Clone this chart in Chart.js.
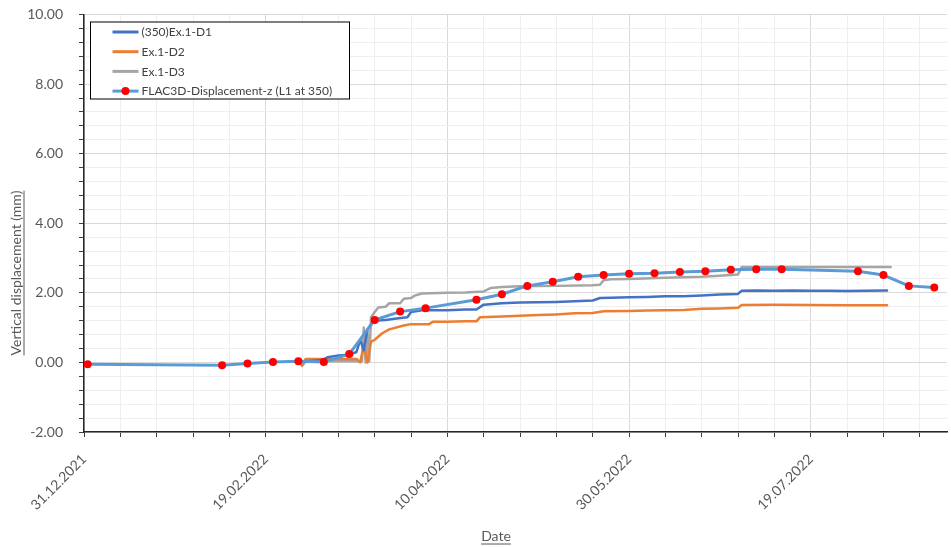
<!DOCTYPE html>
<html>
<head>
<meta charset="utf-8">
<script src="https://cdn.jsdelivr.net/npm/chart.js@4/dist/chart.umd.min.js"></script>
<style>
  html, body { margin: 0; padding: 0; background: #ffffff; }
  #wrap { width: 951px; height: 547px; }
</style>
</head>
<body>
<div id="wrap"><canvas id="chart" width="951" height="547"></canvas></div>
<script>
// Day offsets are counted from 31.12.2021.
const startDate = Date.UTC(2021, 11, 31);

// (350)Ex.1-D1 measured settlement
const d1Days   = [60, 63, 66, 67, 70, 73, 75, 76, 77, 78, 79, 80, 83, 86, 89, 90, 93, 100, 105, 108, 110, 115, 120, 125, 130, 135, 140, 142, 145, 150, 155, 160, 165, 170, 175, 180, 181, 185, 190, 195, 200, 205, 210, 215, 221];
const d1Values = [0.03, 0.05, 0.08, 0.15, 0.2, 0.22, 0.3, 0.65, 0.35, 0.95, 1.1, 1.2, 1.22, 1.26, 1.3, 1.45, 1.5, 1.5, 1.52, 1.52, 1.66, 1.7, 1.72, 1.73, 1.74, 1.76, 1.78, 1.85, 1.86, 1.87, 1.88, 1.9, 1.9, 1.92, 1.95, 1.97, 2.06, 2.07, 2.06, 2.07, 2.06, 2.06, 2.05, 2.06, 2.07];

// Ex.1-D2 measured settlement
const d2Days   = [60, 61, 65, 70, 75, 76, 77, 78, 79, 80, 82, 84, 88, 90, 95, 96, 100, 105, 108, 109, 115, 120, 125, 130, 135, 140, 143, 150, 155, 160, 165, 170, 175, 180, 181, 190, 200, 210, 221];
const d2Values = [-0.08, 0.1, 0.1, 0.1, 0.1, 0.0, 0.5, 0.0, 0.6, 0.65, 0.83, 0.95, 1.06, 1.1, 1.1, 1.17, 1.17, 1.18, 1.18, 1.3, 1.32, 1.34, 1.36, 1.38, 1.41, 1.42, 1.47, 1.48, 1.49, 1.5, 1.51, 1.54, 1.55, 1.57, 1.65, 1.66, 1.65, 1.64, 1.64];

// Ex.1-D3 measured settlement
const d3Days   = [59.5, 60, 61, 65, 70, 75, 76.5, 77, 77.5, 78, 78.5, 79, 80, 81, 83, 84, 87, 88, 90, 91, 93, 100, 105, 110, 112, 115, 120, 130, 140, 142, 143, 145, 150, 160, 170, 175, 180, 181, 190, 200, 210, 222];
const d3Values = [0.0, -0.1, 0.03, 0.03, 0.03, 0.03, 0.03, 1.0, 0.0, 0.9, 0.03, 1.3, 1.45, 1.58, 1.6, 1.7, 1.7, 1.83, 1.85, 1.92, 1.98, 2.0, 2.01, 2.04, 2.14, 2.17, 2.19, 2.2, 2.22, 2.23, 2.36, 2.39, 2.4, 2.43, 2.46, 2.49, 2.53, 2.74, 2.74, 2.74, 2.74, 2.74];

// FLAC3D vertical displacement at L1 (weekly output)
const flacDays   = [1, 38, 45, 52, 59, 66, 73, 80, 87, 94, 108, 115, 122, 129, 136, 143, 150, 157, 164, 171, 178, 185, 192, 213, 220, 227, 234];
const flacValues = [-0.05, -0.08, -0.03, 0.01, 0.03, 0.01, 0.24, 1.22, 1.46, 1.56, 1.8, 1.96, 2.2, 2.32, 2.46, 2.51, 2.55, 2.56, 2.6, 2.62, 2.66, 2.68, 2.68, 2.62, 2.51, 2.2, 2.15];

const seriesNames = ['(350)Ex.1-D1', 'Ex.1-D2', 'Ex.1-D3', 'FLAC3D-Displacement-z (L1 at 350)'];

// Axis ranges and tick spacing
const xMin = 0, xMax = 237.5, xMinorStep = 10, xMajorStep = 50;
const yMin = -2, yMax = 10, yMinorStep = 0.4, yMajorStep = 2;

const FONT = 'Lato, "Liberation Sans", sans-serif';
const TEXT = '#595959';

function pairs(xs, ys) { return xs.map((x, i) => ({ x: x, y: ys[i] })); }

function formatDate(dayOffset) {
  const d = new Date(startDate + dayOffset * 86400000);
  const dd = String(d.getUTCDate()).padStart(2, '0');
  const mm = String(d.getUTCMonth() + 1).padStart(2, '0');
  return dd + '.' + mm + '.' + d.getUTCFullYear();
}

function isMultiple(v, step) {
  return Math.abs(v / step - Math.round(v / step)) < 1e-6;
}

// Legend box drawn inside the plot, plus underlined axis titles
const overlay = {
  id: 'overlay',
  afterDraw(chart) {
    const ctx = chart.ctx;
    const area = chart.chartArea;
    ctx.save();

    // legend
    const bx = area.left + 6.5, by = area.top + 7.5, bw = 259, bh = 77;
    ctx.fillStyle = '#ffffff';
    ctx.fillRect(bx, by, bw, bh);
    ctx.strokeStyle = '#000000';
    ctx.lineWidth = 1;
    ctx.strokeRect(bx, by, bw, bh);
    ctx.font = '12px ' + FONT;
    ctx.textBaseline = 'middle';
    ctx.textAlign = 'left';
    chart.data.datasets.forEach((ds, i) => {
      const y = by + 10 + i * 19.7;
      const x0 = bx + 22, x1 = bx + 48;
      ctx.strokeStyle = ds.borderColor;
      ctx.lineWidth = 3;
      ctx.beginPath();
      ctx.moveTo(x0, y);
      ctx.lineTo(x1, y);
      ctx.stroke();
      if (ds.pointRadius > 0) {
        ctx.fillStyle = ds.pointBackgroundColor;
        ctx.beginPath();
        ctx.arc((x0 + x1) / 2, y, ds.pointRadius, 0, Math.PI * 2);
        ctx.fill();
      }
      ctx.fillStyle = '#404040';
      ctx.fillText(ds.label, x1 + 3, y + 0.5);
    });

    // axis titles
    ctx.fillStyle = TEXT;
    ctx.strokeStyle = TEXT;
    ctx.font = '14px ' + FONT;
    ctx.lineWidth = 1;

    const xt = 'Date';
    const xw = ctx.measureText(xt).width;
    const xcx = 496;
    const xcy = 536;
    ctx.textAlign = 'center';
    ctx.textBaseline = 'middle';
    ctx.fillText(xt, xcx, xcy);
    ctx.beginPath();
    ctx.moveTo(xcx - xw / 2, xcy + 8);
    ctx.lineTo(xcx + xw / 2, xcy + 8);
    ctx.stroke();

    const yt = 'Vertical displacement (mm)';
    const yw = ctx.measureText(yt).width;
    ctx.translate(16, 273);
    ctx.rotate(-Math.PI / 2);
    ctx.fillText(yt, 0, 0);
    ctx.beginPath();
    ctx.moveTo(-yw / 2, 8);
    ctx.lineTo(yw / 2, 8);
    ctx.stroke();

    ctx.restore();
  }
};

new Chart(document.getElementById('chart'), {
  type: 'line',
  data: {
    datasets: [
      { label: seriesNames[0], data: pairs(d1Days, d1Values), borderColor: '#4472C4', borderWidth: 2.5, pointRadius: 0, order: 1 },
      { label: seriesNames[1], data: pairs(d2Days, d2Values), borderColor: '#ED7D31', borderWidth: 2.5, pointRadius: 0, order: 1 },
      { label: seriesNames[2], data: pairs(d3Days, d3Values), borderColor: '#A5A5A5', borderWidth: 2.5, pointRadius: 0, order: 1 },
      { label: seriesNames[3], data: pairs(flacDays, flacValues), borderColor: '#5B9BD5', borderWidth: 3,
        pointRadius: 4, pointBackgroundColor: '#FF0000', pointBorderColor: '#FF0000', pointBorderWidth: 0, order: 0 }
    ]
  },
  options: {
    responsive: false,
    animation: false,
    events: [],
    layout: { padding: { left: 0, top: 14.5, right: 0, bottom: 0 } },
    plugins: { legend: { display: false }, tooltip: { enabled: false } },
    elements: { line: { tension: 0, borderJoinStyle: 'round', borderCapStyle: 'round' } },
    scales: {
      x: {
        type: 'linear',
        min: xMin,
        max: xMax,
        afterBuildTicks(scale) {
          const t = [];
          for (let v = xMin; v <= xMax; v += xMinorStep) t.push({ value: v });
          scale.ticks = t;
        },
        afterFit(scale) {
          scale.height = 115;
          scale.paddingLeft = 0;
          scale.paddingRight = 0;
        },
        grid: {
          color: c => (c.tick && isMultiple(c.tick.value, xMajorStep)) ? '#D9D9D9' : '#EEEEEE',
          lineWidth: 1,
          tickColor: '#404040',
          tickLength: 5,
          drawTicks: true
        },
        border: { color: '#262626', width: 1.5 },
        ticks: {
          autoSkip: false,
          minRotation: 45,
          maxRotation: 45,
          padding: 14,
          color: TEXT,
          font: { family: FONT, size: 14 },
          callback: v => isMultiple(v, xMajorStep) ? formatDate(v) : ''
        }
      },
      y: {
        type: 'linear',
        min: yMin,
        max: yMax,
        afterBuildTicks(scale) {
          const t = [];
          const n = Math.round((yMax - yMin) / yMinorStep);
          for (let k = 0; k <= n; k++) t.push({ value: Math.round((yMin + k * yMinorStep) * 1e6) / 1e6 });
          scale.ticks = t;
        },
        afterFit(scale) {
          scale.width = 84;
          scale.paddingTop = 0;
          scale.paddingBottom = 0;
        },
        grid: {
          color: c => (c.tick && isMultiple(c.tick.value, yMajorStep)) ? '#D9D9D9' : '#EEEEEE',
          lineWidth: 1,
          tickColor: '#404040',
          tickLength: 5,
          drawTicks: true
        },
        border: { color: '#262626', width: 1.5 },
        ticks: {
          autoSkip: false,
          padding: 16,
          color: TEXT,
          font: { family: FONT, size: 14 },
          callback: v => isMultiple(v, yMajorStep) ? v.toFixed(2) : ''
        }
      }
    }
  },
  plugins: [overlay]
});
</script>
</body>
</html>
